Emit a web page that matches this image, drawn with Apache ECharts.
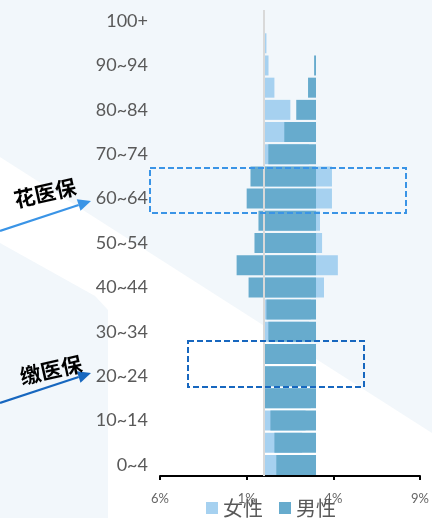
<!DOCTYPE html>
<html>
<head>
<meta charset="utf-8">
<script src="https://cdn.jsdelivr.net/npm/echarts@6/dist/echarts.min.js"></script>
<style>
html,body{margin:0;padding:0;background:#fff;}
#c{width:432px;height:518px;}
</style>
</head>
<body>
<div id="c"></div>
<script>
// Age groups (bottom to top)
const ageGroups = ['0~4','5~9','10~14','15~19','20~24','25~29','30~34','35~39','40~44','45~49','50~54','55~59','60~64','65~69','70~74','75~79','80~84','85~89','90~94','95~99','100+'];
// Female share (%), drawn from the primary axis zero
const femaleValues = [2.1, 2.2, 2.4, 2.7, 2.8, 2.8, 2.6, 2.7, 3.46, 4.26, 3.35, 3.23, 3.92, 3.92, 2.6, 1.9, 1.52, 0.6, 0.26, 0.14, 0.02];
// Male share (%), drawn on the secondary (reversed) axis
const maleValues = [2.29, 2.40, 2.63, 3.0, 3.0, 2.99, 2.75, 2.86, 3.89, 4.58, 3.55, 3.32, 4.0, 3.78, 2.75, 1.83, 1.14, 0.46, 0.11, 0.0, 0.0];
// Axis settings
const axisMin = -6, axisMax = 9, axisInterval = 5;
const seriesNames = ['女性', '男性'];

const chart = echarts.init(document.getElementById('c'), null, {renderer: 'canvas'});
const labelFont = 'Lato, "Noto Sans", sans-serif';
const cjkFont = '"Noto Sans CJK SC", sans-serif';

function arrow(x0, y0, tx, ty, color) {
  const dx = tx - x0, dy = ty - y0, L = Math.hypot(dx, dy);
  const ux = dx / L, uy = dy / L, px = -uy, py = ux;
  const hl = 13, hw = 6;
  const bx = tx - ux * hl, by = ty - uy * hl;
  return [
    {type: 'line', silent: true, z: 10, shape: {x1: x0, y1: y0, x2: bx, y2: by}, style: {stroke: color, lineWidth: 2.2}},
    {type: 'polygon', silent: true, z: 10, shape: {points: [[tx, ty], [bx + px * hw, by + py * hw], [bx - px * hw, by - py * hw]]}, style: {fill: color}}
  ];
}

const option = {
  backgroundColor: '#ffffff',
  animation: false,
  grid: {left: 160, right: 10, top: 10, bottom: 42, containLabel: false},
  legend: {
    data: seriesNames,
    left: 201, top: 492,
    itemWidth: 12, itemHeight: 12, itemGap: 16,
    icon: 'rect',
    textStyle: {fontSize: 20, color: '#595959', fontFamily: cjkFont, lineHeight: 22}
  },
  xAxis: [
    {
      type: 'value', min: axisMin, max: axisMax, interval: axisInterval,
      axisLine: {show: true, onZero: false, lineStyle: {color: '#000', width: 2}},
      axisTick: {show: true, length: 4, lineStyle: {color: '#000', width: 2}},
      splitLine: {show: false},
      axisLabel: {formatter: v => Math.abs(v) + '%', color: '#666', fontSize: 13, margin: 16, fontFamily: labelFont}
    },
    {
      type: 'value', min: axisMin, max: axisMax, inverse: true, show: false,
      splitLine: {show: false}
    }
  ],
  yAxis: {
    type: 'category', data: ageGroups,
    axisLine: {show: false}, axisTick: {show: false},
    axisLabel: {interval: 1, color: '#595959', fontSize: 18, margin: 12, fontFamily: labelFont}
  },
  series: [
    {
      name: seriesNames[0], type: 'bar', xAxisIndex: 0, yAxisIndex: 0,
      data: femaleValues, barWidth: 20, barGap: '-100%',
      itemStyle: {color: '#a6d1f0'}, z: 2,
      markLine: {
        silent: true, symbol: 'none', label: {show: false},
        lineStyle: {color: '#d9d9d9', width: 2, type: 'solid'},
        data: [{xAxis: 0}]
      }
    },
    {
      name: seriesNames[1], type: 'bar', xAxisIndex: 1, yAxisIndex: 0,
      data: maleValues, barWidth: 20, barGap: '-100%',
      itemStyle: {color: '#67abcd'}, z: 3
    }
  ],
  graphic: [
    {type: 'polygon', silent: true, z: -10, shape: {points: [[0,0],[432,0],[432,433],[0,157]]}, style: {fill: '#f2f7fb'}},
    {type: 'polygon', silent: true, z: -10, shape: {points: [[0,243],[95,296],[108,310],[108,518],[0,518]]}, style: {fill: '#f2f7fb'}},
    {type: 'rect', silent: true, z: 10, shape: {x: 150, y: 168, width: 256, height: 45}, style: {fill: 'none', stroke: '#3a94e6', lineWidth: 2, lineDash: [6, 3]}},
    {type: 'rect', silent: true, z: 10, shape: {x: 188, y: 341, width: 176, height: 46}, style: {fill: 'none', stroke: '#1767bf', lineWidth: 2, lineDash: [6, 3]}},
    ...arrow(0, 231, 91, 201, '#3a94e6'),
    ...arrow(0, 403, 91, 373, '#1767bf'),
    {type: 'text', silent: true, z: 10, x: 45, y: 193, rotation: 0.22,
      style: {text: '花医保', fill: '#000', font: 'bold 21px "Noto Sans CJK SC", sans-serif', align: 'center', verticalAlign: 'middle'}},
    {type: 'text', silent: true, z: 10, x: 51, y: 370, rotation: 0.22,
      style: {text: '缴医保', fill: '#000', font: 'bold 21px "Noto Sans CJK SC", sans-serif', align: 'center', verticalAlign: 'middle'}}
  ]
};
chart.setOption(option);
</script>
</body>
</html>
